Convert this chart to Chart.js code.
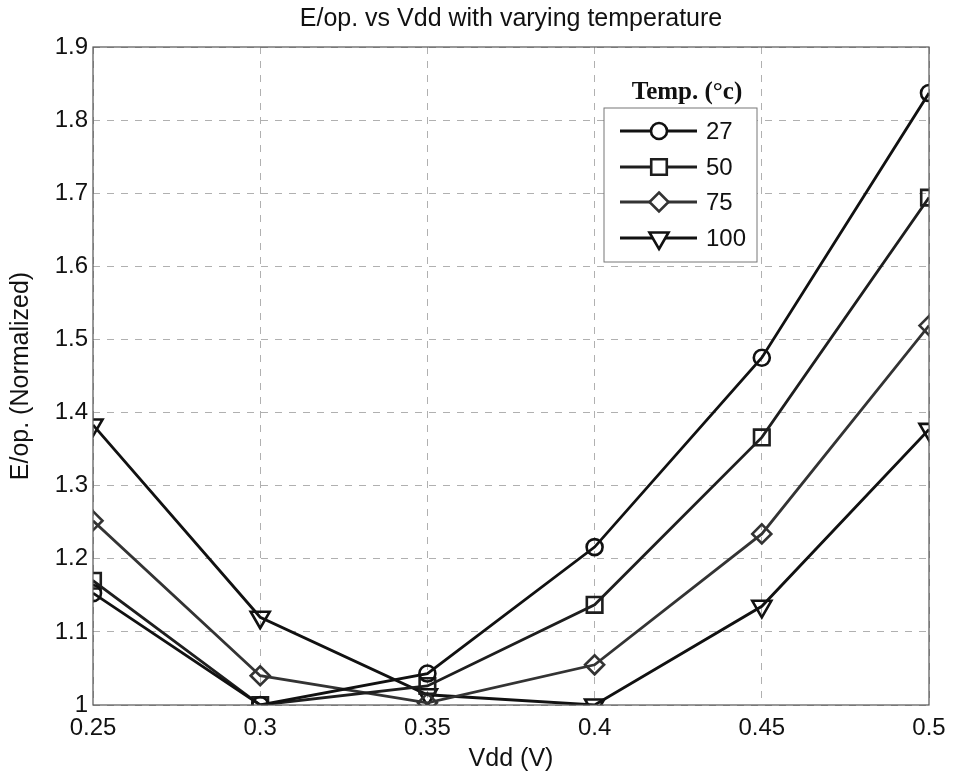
<!DOCTYPE html>
<html>
<head>
<meta charset="utf-8">
<script src="https://cdn.jsdelivr.net/npm/chart.js@4.4.1/dist/chart.umd.min.js"></script>
<style>
  html, body { margin: 0; padding: 0; background: #fff; }
  #wrap { width: 953px; height: 773px; position: relative; }
</style>
</head>
<body>
<div id="wrap"><canvas id="chart-evdd"></canvas></div>
<script>
// data
var vdd = [0.25, 0.3, 0.35, 0.4, 0.45, 0.5];
var temps = ['27', '50', '75', '100'];
var e27 = [1.153, 1.0, 1.043, 1.216, 1.475, 1.837];
var e50 = [1.17, 1.0, 1.026, 1.137, 1.366, 1.694];
var e75 = [1.252, 1.04, 1.003, 1.055, 1.234, 1.519];
var e100 = [1.383, 1.12, 1.014, 1.0, 1.135, 1.377];
var yTicks = [1, 1.1, 1.2, 1.3, 1.4, 1.5, 1.6, 1.7, 1.8, 1.9];

var font = "'Liberation Sans', Arial, sans-serif";

function pts(ys){
    return ys.map(function(y, i){ return {x: vdd[i], y: y}; });
}

function makeSet(label, ys, style, color, radius){
    return {
        label: label,
        data: pts(ys),
        borderColor: color,
        borderWidth: 2.8,
        pointStyle: style,
        pointRadius: radius,
        pointRotation: style === 'triangle' ? 180 : 0,
        pointBorderColor: color,
        pointBorderWidth: 2.6,
        pointBackgroundColor: 'rgba(0,0,0,0)',
        pointHoverRadius: radius,
        tension: 0
    };
}

// frame, title and the floating legend (matlab look)
var extras = {
    id: 'extras',
    afterDraw: function(chart){
        var c = chart.ctx, a = chart.chartArea;
        c.save();
        c.strokeStyle = '#555';
        c.lineWidth = 1.2;
        c.strokeRect(a.left, a.top, a.right - a.left, a.bottom - a.top);

        c.fillStyle = '#111';
        c.font = '25px ' + font;
        c.textAlign = 'center';
        c.textBaseline = 'alphabetic';
        c.fillText('E/op. vs Vdd with varying temperature', (a.left + a.right) / 2, 26);

        // legend
        var bx = 604, by = 108, bw = 153, bh = 154;
        c.font = 'bold 25px "Liberation Serif", "DejaVu Serif", serif';
        c.fillText('Temp. (°c)', 687, 99);
        c.fillStyle = '#fff';
        c.fillRect(bx, by, bw, bh);
        c.strokeStyle = '#777';
        c.lineWidth = 1;
        c.strokeRect(bx, by, bw, bh);

        var rowY = [131, 167, 202, 238];
        c.textBaseline = 'middle';
        chart.data.datasets.forEach(function(ds, i){
            var y = rowY[i];
            c.strokeStyle = ds.borderColor;
            c.lineWidth = ds.borderWidth;
            c.beginPath();
            c.moveTo(620, y);
            c.lineTo(697, y);
            c.stroke();
            c.fillStyle = '#fff';
            c.lineWidth = ds.pointBorderWidth;
            drawMarker(c, ds.pointStyle, 659, y, ds.pointRadius);
            c.fillStyle = '#111';
            c.font = '24px ' + font;
            c.textAlign = 'left';
            c.fillText(ds.label, 706, y + 1);
        });
        c.restore();
    }
};

function drawMarker(c, style, x, y, r){
    c.beginPath();
    if (style === 'circle') {
        c.arc(x, y, r, 0, Math.PI * 2);
    } else if (style === 'rect') {
        var s = r * Math.SQRT1_2;
        c.rect(x - s, y - s, 2 * s, 2 * s);
    } else if (style === 'rectRot') {
        c.moveTo(x, y - r); c.lineTo(x + r, y); c.lineTo(x, y + r); c.lineTo(x - r, y); c.closePath();
    } else {
        var h = r * Math.sin(Math.PI / 3);
        c.moveTo(x, y + r); c.lineTo(x + h, y - r / 2); c.lineTo(x - h, y - r / 2); c.closePath();
    }
    c.fill();
    c.stroke();
}

var ctx = document.getElementById('chart-evdd');
var evddChart = new Chart(ctx, {
    type: 'line',
    data: {
        datasets: [
            makeSet(temps[0], e27, 'circle', '#111', 8),
            makeSet(temps[1], e50, 'rect', '#1e1e1e', 11),
            makeSet(temps[2], e75, 'rectRot', '#333', 9.5),
            makeSet(temps[3], e100, 'triangle', '#111', 11)
        ]
    },
    options: {
        responsive: true,
        maintainAspectRatio: false,
        animation: false,
        layout: { padding: { top: 47, right: 24, left: 0, bottom: 0 } },
        plugins: {
            legend: { display: false },
            title: { display: false },
            tooltip: { enabled: false }
        },
        scales: {
            x: {
                type: 'linear',
                min: 0.25,
                max: 0.5,
                afterBuildTicks: function(s){ s.ticks = vdd.map(function(v){ return {value: v}; }); },
                afterFit: function(s){ s.height = 68; s.paddingLeft = 0; s.paddingRight = 0; },
                ticks: {
                    color: '#111',
                    font: { family: font, size: 24 },
                    padding: 9,
                    maxRotation: 0,
                    callback: function(v){ return String(Number(v.toFixed(2))); }
                },
                grid: { color: '#b0b0b0', lineWidth: 1, drawTicks: false },
                border: { display: false, dash: [7, 7] },
                title: { display: true, text: 'Vdd (V)', color: '#111', font: { family: font, size: 25, lineHeight: 1 }, padding: { top: 0, bottom: 1 } }
            },
            y: {
                min: 1,
                max: 1.9,
                afterBuildTicks: function(s){ s.ticks = yTicks.map(function(v){ return {value: v}; }); },
                afterFit: function(s){ s.width = 93; s.paddingTop = 0; s.paddingBottom = 0; },
                ticks: {
                    color: '#111',
                    font: { family: font, size: 24 },
                    padding: 5,
                    callback: function(v){ return String(Number(v.toFixed(1))); }
                },
                grid: { color: '#b0b0b0', lineWidth: 1, drawTicks: false },
                border: { display: false, dash: [7, 7] },
                title: { display: true, text: 'E/op. (Normalized)', color: '#111', font: { family: font, size: 25 }, padding: { top: 6, bottom: 0 } }
            }
        }
    },
    plugins: [extras]
});
</script>
</body>
</html>
